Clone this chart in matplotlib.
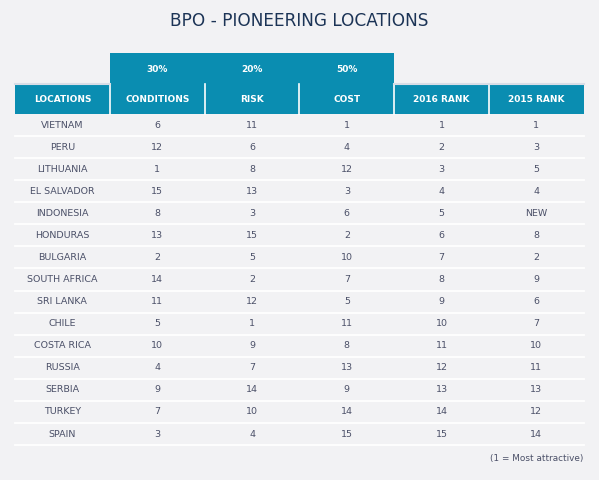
import matplotlib.pyplot as plt
from matplotlib.patches import Rectangle

locations = ['VIETNAM', 'PERU', 'LITHUANIA', 'EL SALVADOR', 'INDONESIA', 'HONDURAS',
             'BULGARIA', 'SOUTH AFRICA', 'SRI LANKA', 'CHILE', 'COSTA RICA', 'RUSSIA',
             'SERBIA', 'TURKEY', 'SPAIN']
conditions = [6, 12, 1, 15, 8, 13, 2, 14, 11, 5, 10, 4, 9, 7, 3]
risk = [11, 6, 8, 13, 3, 15, 5, 2, 12, 1, 9, 7, 14, 10, 4]
cost = [1, 4, 12, 3, 6, 2, 10, 7, 5, 11, 8, 13, 9, 14, 15]
rank_2016 = [1, 2, 3, 4, 5, 6, 7, 8, 9, 10, 11, 12, 13, 14, 15]
rank_2015 = ['1', '3', '5', '4', 'NEW', '8', '2', '9', '6', '7', '10', '11', '13', '12', '14']

headers = ['LOCATIONS', 'CONDITIONS', 'RISK', 'COST', '2016 RANK', '2015 RANK']
weights = ['', '30%', '20%', '50%', '', '']

BG = '#f2f2f4'
TEAL = '#0a8db1'
TXT = '#4b5068'
TITLE = '#1c3456'

# layout in pixels
left, col_w = 15, 94.8
top_weight, top_head, top_body, row_h = 53, 84, 114, 22.07

fig = plt.figure(figsize=(5.99, 4.80), dpi=100, facecolor=BG)
ax = fig.add_axes([0, 0, 1, 1])
ax.set_xlim(0, 599)
ax.set_ylim(480, 0)
ax.axis('off')
ax.set_facecolor(BG)

ax.text(299.5, 21, 'BPO - PIONEERING LOCATIONS', ha='center', va='center',
        fontsize=12.2, color=TITLE, fontweight='medium')

# weights row (merged over the three criteria)
ax.add_patch(Rectangle((left + col_w, top_weight), 3 * col_w, top_head - top_weight,
                       facecolor=TEAL, edgecolor='none'))
for i, w in enumerate(weights):
    if w:
        ax.text(left + (i + 0.5) * col_w, 69, w, ha='center', va='center',
                fontsize=6.5, color='white', fontweight='bold')

# header row
for i, h in enumerate(headers):
    x0 = left + i * col_w
    ax.add_patch(Rectangle((x0, top_head), col_w, top_body - top_head,
                           facecolor=TEAL, edgecolor='none'))
    ax.text(x0 + col_w / 2, 99.5, h, ha='center', va='center',
            fontsize=6.5, color='white', fontweight='bold')
    if i > 0:
        ax.plot([x0, x0], [top_head, top_body], color='white', lw=1.2)
ax.plot([left, left + col_w], [top_head, top_head], color='#d8dde6', lw=1.5)
ax.plot([left + 4 * col_w, left + 6 * col_w], [top_head, top_head], color='#d8dde6', lw=1.5)

# body
columns = [locations, conditions, risk, cost, rank_2016, rank_2015]
for r in range(len(locations)):
    yc = top_body + (r + 0.5) * row_h
    for c, col in enumerate(columns):
        ax.text(left + (c + 0.5) * col_w, yc, str(col[r]), ha='center', va='center',
                fontsize=6.8, color=TXT)
    yb = top_body + (r + 1) * row_h
    ax.plot([left, left + 6 * col_w], [yb, yb], color='white', lw=1.3)

ax.text(left + 6 * col_w, 459, '(1 = Most attractive)', ha='right', va='center',
        fontsize=6.4, color=TXT)

fig.savefig('out.png', dpi=100, facecolor=BG)
